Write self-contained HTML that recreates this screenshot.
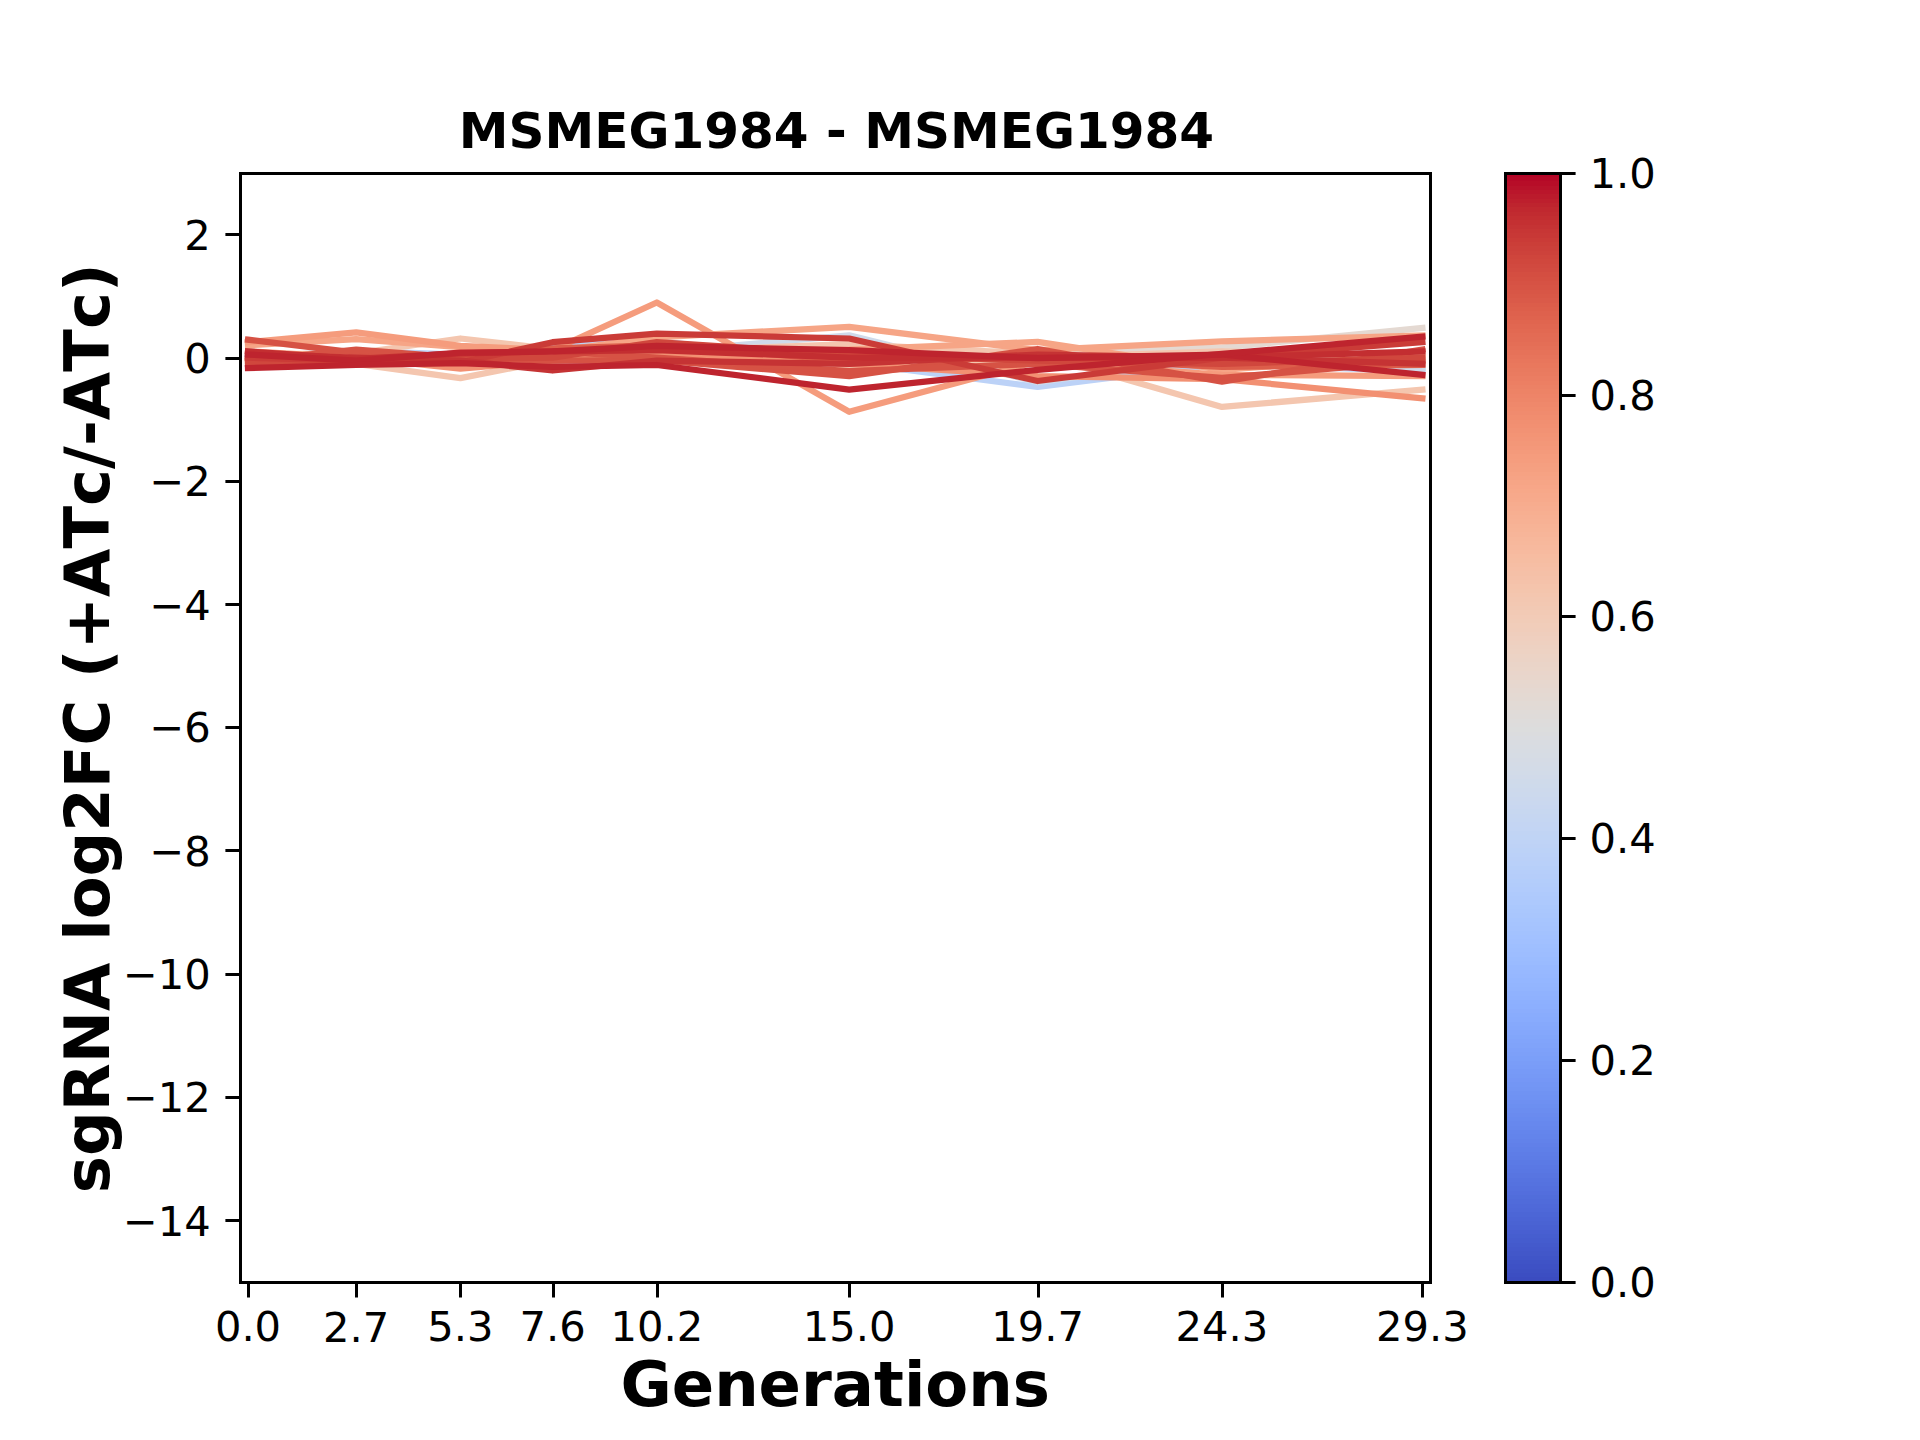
<!DOCTYPE html>
<html lang="en"><head><meta charset="utf-8"><title>MSMEG1984 - MSMEG1984</title>
<style>html,body{margin:0;padding:0;background:#fff}svg{display:block}text{font-kerning:none;font-family:"DejaVu Sans","Liberation Sans",sans-serif;fill:#000}.b{font-weight:bold}.t{font-size:41.67px}</style></head><body>
<svg width="1920" height="1440" viewBox="0 0 1920 1440">
<defs><linearGradient id="cw" x1="0" y1="0" x2="0" y2="1"><stop offset="0.00000" stop-color="#b40426"/><stop offset="0.00391" stop-color="#b40426"/><stop offset="0.00391" stop-color="#b50927"/><stop offset="0.00781" stop-color="#b50927"/><stop offset="0.00781" stop-color="#b70d28"/><stop offset="0.01172" stop-color="#b70d28"/><stop offset="0.01172" stop-color="#b8122a"/><stop offset="0.01562" stop-color="#b8122a"/><stop offset="0.01562" stop-color="#ba162b"/><stop offset="0.01953" stop-color="#ba162b"/><stop offset="0.01953" stop-color="#bb1b2c"/><stop offset="0.02344" stop-color="#bb1b2c"/><stop offset="0.02344" stop-color="#bd1f2d"/><stop offset="0.02734" stop-color="#bd1f2d"/><stop offset="0.02734" stop-color="#be242e"/><stop offset="0.03125" stop-color="#be242e"/><stop offset="0.03125" stop-color="#c0282f"/><stop offset="0.03516" stop-color="#c0282f"/><stop offset="0.03516" stop-color="#c12b30"/><stop offset="0.03906" stop-color="#c12b30"/><stop offset="0.03906" stop-color="#c32e31"/><stop offset="0.04297" stop-color="#c32e31"/><stop offset="0.04297" stop-color="#c43032"/><stop offset="0.04688" stop-color="#c43032"/><stop offset="0.04688" stop-color="#c53334"/><stop offset="0.05078" stop-color="#c53334"/><stop offset="0.05078" stop-color="#c73635"/><stop offset="0.05469" stop-color="#c73635"/><stop offset="0.05469" stop-color="#c83836"/><stop offset="0.05859" stop-color="#c83836"/><stop offset="0.05859" stop-color="#ca3b37"/><stop offset="0.06250" stop-color="#ca3b37"/><stop offset="0.06250" stop-color="#cb3e38"/><stop offset="0.06641" stop-color="#cb3e38"/><stop offset="0.06641" stop-color="#cc403a"/><stop offset="0.07031" stop-color="#cc403a"/><stop offset="0.07031" stop-color="#cd423b"/><stop offset="0.07422" stop-color="#cd423b"/><stop offset="0.07422" stop-color="#cf453c"/><stop offset="0.07812" stop-color="#cf453c"/><stop offset="0.07812" stop-color="#d0473d"/><stop offset="0.08203" stop-color="#d0473d"/><stop offset="0.08203" stop-color="#d1493f"/><stop offset="0.08594" stop-color="#d1493f"/><stop offset="0.08594" stop-color="#d24b40"/><stop offset="0.08984" stop-color="#d24b40"/><stop offset="0.08984" stop-color="#d44e41"/><stop offset="0.09375" stop-color="#d44e41"/><stop offset="0.09375" stop-color="#d55042"/><stop offset="0.09766" stop-color="#d55042"/><stop offset="0.09766" stop-color="#d65244"/><stop offset="0.10156" stop-color="#d65244"/><stop offset="0.10156" stop-color="#d75445"/><stop offset="0.10547" stop-color="#d75445"/><stop offset="0.10547" stop-color="#d85646"/><stop offset="0.10938" stop-color="#d85646"/><stop offset="0.10938" stop-color="#d95847"/><stop offset="0.11328" stop-color="#d95847"/><stop offset="0.11328" stop-color="#da5a49"/><stop offset="0.11719" stop-color="#da5a49"/><stop offset="0.11719" stop-color="#dc5d4a"/><stop offset="0.12109" stop-color="#dc5d4a"/><stop offset="0.12109" stop-color="#dd5f4b"/><stop offset="0.12500" stop-color="#dd5f4b"/><stop offset="0.12500" stop-color="#de614d"/><stop offset="0.12891" stop-color="#de614d"/><stop offset="0.12891" stop-color="#df634e"/><stop offset="0.13281" stop-color="#df634e"/><stop offset="0.13281" stop-color="#e0654f"/><stop offset="0.13672" stop-color="#e0654f"/><stop offset="0.13672" stop-color="#e16751"/><stop offset="0.14062" stop-color="#e16751"/><stop offset="0.14062" stop-color="#e26952"/><stop offset="0.14453" stop-color="#e26952"/><stop offset="0.14453" stop-color="#e36b54"/><stop offset="0.14844" stop-color="#e36b54"/><stop offset="0.14844" stop-color="#e36c55"/><stop offset="0.15234" stop-color="#e36c55"/><stop offset="0.15234" stop-color="#e46e56"/><stop offset="0.15625" stop-color="#e46e56"/><stop offset="0.15625" stop-color="#e57058"/><stop offset="0.16016" stop-color="#e57058"/><stop offset="0.16016" stop-color="#e67259"/><stop offset="0.16406" stop-color="#e67259"/><stop offset="0.16406" stop-color="#e7745b"/><stop offset="0.16797" stop-color="#e7745b"/><stop offset="0.16797" stop-color="#e8765c"/><stop offset="0.17188" stop-color="#e8765c"/><stop offset="0.17188" stop-color="#e9785d"/><stop offset="0.17578" stop-color="#e9785d"/><stop offset="0.17578" stop-color="#e97a5f"/><stop offset="0.17969" stop-color="#e97a5f"/><stop offset="0.17969" stop-color="#ea7b60"/><stop offset="0.18359" stop-color="#ea7b60"/><stop offset="0.18359" stop-color="#eb7d62"/><stop offset="0.18750" stop-color="#eb7d62"/><stop offset="0.18750" stop-color="#ec7f63"/><stop offset="0.19141" stop-color="#ec7f63"/><stop offset="0.19141" stop-color="#ec8165"/><stop offset="0.19531" stop-color="#ec8165"/><stop offset="0.19531" stop-color="#ed8366"/><stop offset="0.19922" stop-color="#ed8366"/><stop offset="0.19922" stop-color="#ee8468"/><stop offset="0.20312" stop-color="#ee8468"/><stop offset="0.20312" stop-color="#ee8669"/><stop offset="0.20703" stop-color="#ee8669"/><stop offset="0.20703" stop-color="#ef886b"/><stop offset="0.21094" stop-color="#ef886b"/><stop offset="0.21094" stop-color="#f08a6c"/><stop offset="0.21484" stop-color="#f08a6c"/><stop offset="0.21484" stop-color="#f08b6e"/><stop offset="0.21875" stop-color="#f08b6e"/><stop offset="0.21875" stop-color="#f18d6f"/><stop offset="0.22266" stop-color="#f18d6f"/><stop offset="0.22266" stop-color="#f18f71"/><stop offset="0.22656" stop-color="#f18f71"/><stop offset="0.22656" stop-color="#f29072"/><stop offset="0.23047" stop-color="#f29072"/><stop offset="0.23047" stop-color="#f29274"/><stop offset="0.23438" stop-color="#f29274"/><stop offset="0.23438" stop-color="#f39475"/><stop offset="0.23828" stop-color="#f39475"/><stop offset="0.23828" stop-color="#f39577"/><stop offset="0.24219" stop-color="#f39577"/><stop offset="0.24219" stop-color="#f39778"/><stop offset="0.24609" stop-color="#f39778"/><stop offset="0.24609" stop-color="#f4987a"/><stop offset="0.25000" stop-color="#f4987a"/><stop offset="0.25000" stop-color="#f49a7b"/><stop offset="0.25391" stop-color="#f49a7b"/><stop offset="0.25391" stop-color="#f59c7d"/><stop offset="0.25781" stop-color="#f59c7d"/><stop offset="0.25781" stop-color="#f59d7e"/><stop offset="0.26172" stop-color="#f59d7e"/><stop offset="0.26172" stop-color="#f59f80"/><stop offset="0.26562" stop-color="#f59f80"/><stop offset="0.26562" stop-color="#f5a081"/><stop offset="0.26953" stop-color="#f5a081"/><stop offset="0.26953" stop-color="#f6a283"/><stop offset="0.27344" stop-color="#f6a283"/><stop offset="0.27344" stop-color="#f6a385"/><stop offset="0.27734" stop-color="#f6a385"/><stop offset="0.27734" stop-color="#f6a586"/><stop offset="0.28125" stop-color="#f6a586"/><stop offset="0.28125" stop-color="#f7a688"/><stop offset="0.28516" stop-color="#f7a688"/><stop offset="0.28516" stop-color="#f7a889"/><stop offset="0.28906" stop-color="#f7a889"/><stop offset="0.28906" stop-color="#f7a98b"/><stop offset="0.29297" stop-color="#f7a98b"/><stop offset="0.29297" stop-color="#f7aa8c"/><stop offset="0.29688" stop-color="#f7aa8c"/><stop offset="0.29688" stop-color="#f7ac8e"/><stop offset="0.30078" stop-color="#f7ac8e"/><stop offset="0.30078" stop-color="#f7ad90"/><stop offset="0.30469" stop-color="#f7ad90"/><stop offset="0.30469" stop-color="#f7af91"/><stop offset="0.30859" stop-color="#f7af91"/><stop offset="0.30859" stop-color="#f7b093"/><stop offset="0.31250" stop-color="#f7b093"/><stop offset="0.31250" stop-color="#f7b194"/><stop offset="0.31641" stop-color="#f7b194"/><stop offset="0.31641" stop-color="#f7b396"/><stop offset="0.32031" stop-color="#f7b396"/><stop offset="0.32031" stop-color="#f7b497"/><stop offset="0.32422" stop-color="#f7b497"/><stop offset="0.32422" stop-color="#f7b599"/><stop offset="0.32812" stop-color="#f7b599"/><stop offset="0.32812" stop-color="#f7b79b"/><stop offset="0.33203" stop-color="#f7b79b"/><stop offset="0.33203" stop-color="#f7b89c"/><stop offset="0.33594" stop-color="#f7b89c"/><stop offset="0.33594" stop-color="#f7b99e"/><stop offset="0.33984" stop-color="#f7b99e"/><stop offset="0.33984" stop-color="#f7ba9f"/><stop offset="0.34375" stop-color="#f7ba9f"/><stop offset="0.34375" stop-color="#f7bca1"/><stop offset="0.34766" stop-color="#f7bca1"/><stop offset="0.34766" stop-color="#f6bda2"/><stop offset="0.35156" stop-color="#f6bda2"/><stop offset="0.35156" stop-color="#f6bea4"/><stop offset="0.35547" stop-color="#f6bea4"/><stop offset="0.35547" stop-color="#f6bfa6"/><stop offset="0.35938" stop-color="#f6bfa6"/><stop offset="0.35938" stop-color="#f5c0a7"/><stop offset="0.36328" stop-color="#f5c0a7"/><stop offset="0.36328" stop-color="#f5c1a9"/><stop offset="0.36719" stop-color="#f5c1a9"/><stop offset="0.36719" stop-color="#f5c2aa"/><stop offset="0.37109" stop-color="#f5c2aa"/><stop offset="0.37109" stop-color="#f5c4ac"/><stop offset="0.37500" stop-color="#f5c4ac"/><stop offset="0.37500" stop-color="#f4c5ad"/><stop offset="0.37891" stop-color="#f4c5ad"/><stop offset="0.37891" stop-color="#f4c6af"/><stop offset="0.38281" stop-color="#f4c6af"/><stop offset="0.38281" stop-color="#f3c7b1"/><stop offset="0.38672" stop-color="#f3c7b1"/><stop offset="0.38672" stop-color="#f3c8b2"/><stop offset="0.39062" stop-color="#f3c8b2"/><stop offset="0.39062" stop-color="#f2c9b4"/><stop offset="0.39453" stop-color="#f2c9b4"/><stop offset="0.39453" stop-color="#f2cab5"/><stop offset="0.39844" stop-color="#f2cab5"/><stop offset="0.39844" stop-color="#f2cbb7"/><stop offset="0.40234" stop-color="#f2cbb7"/><stop offset="0.40234" stop-color="#f1ccb8"/><stop offset="0.40625" stop-color="#f1ccb8"/><stop offset="0.40625" stop-color="#f1cdba"/><stop offset="0.41016" stop-color="#f1cdba"/><stop offset="0.41016" stop-color="#f0cdbb"/><stop offset="0.41406" stop-color="#f0cdbb"/><stop offset="0.41406" stop-color="#efcebd"/><stop offset="0.41797" stop-color="#efcebd"/><stop offset="0.41797" stop-color="#efcfbf"/><stop offset="0.42188" stop-color="#efcfbf"/><stop offset="0.42188" stop-color="#eed0c0"/><stop offset="0.42578" stop-color="#eed0c0"/><stop offset="0.42578" stop-color="#edd1c2"/><stop offset="0.42969" stop-color="#edd1c2"/><stop offset="0.42969" stop-color="#edd2c3"/><stop offset="0.43359" stop-color="#edd2c3"/><stop offset="0.43359" stop-color="#ecd3c5"/><stop offset="0.43750" stop-color="#ecd3c5"/><stop offset="0.43750" stop-color="#ebd3c6"/><stop offset="0.44141" stop-color="#ebd3c6"/><stop offset="0.44141" stop-color="#ead4c8"/><stop offset="0.44531" stop-color="#ead4c8"/><stop offset="0.44531" stop-color="#ead5c9"/><stop offset="0.44922" stop-color="#ead5c9"/><stop offset="0.44922" stop-color="#e9d5cb"/><stop offset="0.45312" stop-color="#e9d5cb"/><stop offset="0.45312" stop-color="#e8d6cc"/><stop offset="0.45703" stop-color="#e8d6cc"/><stop offset="0.45703" stop-color="#e7d7ce"/><stop offset="0.46094" stop-color="#e7d7ce"/><stop offset="0.46094" stop-color="#e6d7cf"/><stop offset="0.46484" stop-color="#e6d7cf"/><stop offset="0.46484" stop-color="#e5d8d1"/><stop offset="0.46875" stop-color="#e5d8d1"/><stop offset="0.46875" stop-color="#e4d9d2"/><stop offset="0.47266" stop-color="#e4d9d2"/><stop offset="0.47266" stop-color="#e3d9d3"/><stop offset="0.47656" stop-color="#e3d9d3"/><stop offset="0.47656" stop-color="#e2dad5"/><stop offset="0.48047" stop-color="#e2dad5"/><stop offset="0.48047" stop-color="#e1dad6"/><stop offset="0.48438" stop-color="#e1dad6"/><stop offset="0.48438" stop-color="#e0dbd8"/><stop offset="0.48828" stop-color="#e0dbd8"/><stop offset="0.48828" stop-color="#dfdbd9"/><stop offset="0.49219" stop-color="#dfdbd9"/><stop offset="0.49219" stop-color="#dedcdb"/><stop offset="0.49609" stop-color="#dedcdb"/><stop offset="0.49609" stop-color="#dddcdc"/><stop offset="0.50000" stop-color="#dddcdc"/><stop offset="0.50000" stop-color="#dcdddd"/><stop offset="0.50391" stop-color="#dcdddd"/><stop offset="0.50391" stop-color="#dbdcde"/><stop offset="0.50781" stop-color="#dbdcde"/><stop offset="0.50781" stop-color="#dadce0"/><stop offset="0.51172" stop-color="#dadce0"/><stop offset="0.51172" stop-color="#d9dce1"/><stop offset="0.51562" stop-color="#d9dce1"/><stop offset="0.51562" stop-color="#d8dce2"/><stop offset="0.51953" stop-color="#d8dce2"/><stop offset="0.51953" stop-color="#d7dce3"/><stop offset="0.52344" stop-color="#d7dce3"/><stop offset="0.52344" stop-color="#d6dce4"/><stop offset="0.52734" stop-color="#d6dce4"/><stop offset="0.52734" stop-color="#d5dbe5"/><stop offset="0.53125" stop-color="#d5dbe5"/><stop offset="0.53125" stop-color="#d4dbe6"/><stop offset="0.53516" stop-color="#d4dbe6"/><stop offset="0.53516" stop-color="#d3dbe7"/><stop offset="0.53906" stop-color="#d3dbe7"/><stop offset="0.53906" stop-color="#d2dbe8"/><stop offset="0.54297" stop-color="#d2dbe8"/><stop offset="0.54297" stop-color="#d1dae9"/><stop offset="0.54688" stop-color="#d1dae9"/><stop offset="0.54688" stop-color="#cfdaea"/><stop offset="0.55078" stop-color="#cfdaea"/><stop offset="0.55078" stop-color="#cedaeb"/><stop offset="0.55469" stop-color="#cedaeb"/><stop offset="0.55469" stop-color="#cdd9ec"/><stop offset="0.55859" stop-color="#cdd9ec"/><stop offset="0.55859" stop-color="#ccd9ed"/><stop offset="0.56250" stop-color="#ccd9ed"/><stop offset="0.56250" stop-color="#cbd8ee"/><stop offset="0.56641" stop-color="#cbd8ee"/><stop offset="0.56641" stop-color="#cad8ef"/><stop offset="0.57031" stop-color="#cad8ef"/><stop offset="0.57031" stop-color="#c9d7f0"/><stop offset="0.57422" stop-color="#c9d7f0"/><stop offset="0.57422" stop-color="#c7d7f0"/><stop offset="0.57812" stop-color="#c7d7f0"/><stop offset="0.57812" stop-color="#c6d6f1"/><stop offset="0.58203" stop-color="#c6d6f1"/><stop offset="0.58203" stop-color="#c5d6f2"/><stop offset="0.58594" stop-color="#c5d6f2"/><stop offset="0.58594" stop-color="#c4d5f3"/><stop offset="0.58984" stop-color="#c4d5f3"/><stop offset="0.58984" stop-color="#c3d5f4"/><stop offset="0.59375" stop-color="#c3d5f4"/><stop offset="0.59375" stop-color="#c1d4f4"/><stop offset="0.59766" stop-color="#c1d4f4"/><stop offset="0.59766" stop-color="#c0d4f5"/><stop offset="0.60156" stop-color="#c0d4f5"/><stop offset="0.60156" stop-color="#bfd3f6"/><stop offset="0.60547" stop-color="#bfd3f6"/><stop offset="0.60547" stop-color="#bed2f6"/><stop offset="0.60938" stop-color="#bed2f6"/><stop offset="0.60938" stop-color="#bcd2f7"/><stop offset="0.61328" stop-color="#bcd2f7"/><stop offset="0.61328" stop-color="#bbd1f8"/><stop offset="0.61719" stop-color="#bbd1f8"/><stop offset="0.61719" stop-color="#bad0f8"/><stop offset="0.62109" stop-color="#bad0f8"/><stop offset="0.62109" stop-color="#b9d0f9"/><stop offset="0.62500" stop-color="#b9d0f9"/><stop offset="0.62500" stop-color="#b7cff9"/><stop offset="0.62891" stop-color="#b7cff9"/><stop offset="0.62891" stop-color="#b6cefa"/><stop offset="0.63281" stop-color="#b6cefa"/><stop offset="0.63281" stop-color="#b5cdfa"/><stop offset="0.63672" stop-color="#b5cdfa"/><stop offset="0.63672" stop-color="#b3cdfb"/><stop offset="0.64062" stop-color="#b3cdfb"/><stop offset="0.64062" stop-color="#b2ccfb"/><stop offset="0.64453" stop-color="#b2ccfb"/><stop offset="0.64453" stop-color="#b1cbfc"/><stop offset="0.64844" stop-color="#b1cbfc"/><stop offset="0.64844" stop-color="#afcafc"/><stop offset="0.65234" stop-color="#afcafc"/><stop offset="0.65234" stop-color="#aec9fc"/><stop offset="0.65625" stop-color="#aec9fc"/><stop offset="0.65625" stop-color="#adc9fd"/><stop offset="0.66016" stop-color="#adc9fd"/><stop offset="0.66016" stop-color="#abc8fd"/><stop offset="0.66406" stop-color="#abc8fd"/><stop offset="0.66406" stop-color="#aac7fd"/><stop offset="0.66797" stop-color="#aac7fd"/><stop offset="0.66797" stop-color="#a9c6fd"/><stop offset="0.67188" stop-color="#a9c6fd"/><stop offset="0.67188" stop-color="#a7c5fe"/><stop offset="0.67578" stop-color="#a7c5fe"/><stop offset="0.67578" stop-color="#a6c4fe"/><stop offset="0.67969" stop-color="#a6c4fe"/><stop offset="0.67969" stop-color="#a5c3fe"/><stop offset="0.68359" stop-color="#a5c3fe"/><stop offset="0.68359" stop-color="#a3c2fe"/><stop offset="0.68750" stop-color="#a3c2fe"/><stop offset="0.68750" stop-color="#a2c1ff"/><stop offset="0.69141" stop-color="#a2c1ff"/><stop offset="0.69141" stop-color="#a1c0ff"/><stop offset="0.69531" stop-color="#a1c0ff"/><stop offset="0.69531" stop-color="#9fbfff"/><stop offset="0.69922" stop-color="#9fbfff"/><stop offset="0.69922" stop-color="#9ebeff"/><stop offset="0.70312" stop-color="#9ebeff"/><stop offset="0.70312" stop-color="#9dbdff"/><stop offset="0.70703" stop-color="#9dbdff"/><stop offset="0.70703" stop-color="#9bbcff"/><stop offset="0.71094" stop-color="#9bbcff"/><stop offset="0.71094" stop-color="#9abbff"/><stop offset="0.71484" stop-color="#9abbff"/><stop offset="0.71484" stop-color="#98b9ff"/><stop offset="0.71875" stop-color="#98b9ff"/><stop offset="0.71875" stop-color="#97b8ff"/><stop offset="0.72266" stop-color="#97b8ff"/><stop offset="0.72266" stop-color="#96b7ff"/><stop offset="0.72656" stop-color="#96b7ff"/><stop offset="0.72656" stop-color="#94b6ff"/><stop offset="0.73047" stop-color="#94b6ff"/><stop offset="0.73047" stop-color="#93b5fe"/><stop offset="0.73438" stop-color="#93b5fe"/><stop offset="0.73438" stop-color="#92b4fe"/><stop offset="0.73828" stop-color="#92b4fe"/><stop offset="0.73828" stop-color="#90b2fe"/><stop offset="0.74219" stop-color="#90b2fe"/><stop offset="0.74219" stop-color="#8fb1fe"/><stop offset="0.74609" stop-color="#8fb1fe"/><stop offset="0.74609" stop-color="#8db0fe"/><stop offset="0.75000" stop-color="#8db0fe"/><stop offset="0.75000" stop-color="#8caffe"/><stop offset="0.75391" stop-color="#8caffe"/><stop offset="0.75391" stop-color="#8badfd"/><stop offset="0.75781" stop-color="#8badfd"/><stop offset="0.75781" stop-color="#89acfd"/><stop offset="0.76172" stop-color="#89acfd"/><stop offset="0.76172" stop-color="#88abfd"/><stop offset="0.76562" stop-color="#88abfd"/><stop offset="0.76562" stop-color="#86a9fc"/><stop offset="0.76953" stop-color="#86a9fc"/><stop offset="0.76953" stop-color="#85a8fc"/><stop offset="0.77344" stop-color="#85a8fc"/><stop offset="0.77344" stop-color="#84a7fc"/><stop offset="0.77734" stop-color="#84a7fc"/><stop offset="0.77734" stop-color="#82a6fb"/><stop offset="0.78125" stop-color="#82a6fb"/><stop offset="0.78125" stop-color="#81a4fb"/><stop offset="0.78516" stop-color="#81a4fb"/><stop offset="0.78516" stop-color="#80a3fa"/><stop offset="0.78906" stop-color="#80a3fa"/><stop offset="0.78906" stop-color="#7ea1fa"/><stop offset="0.79297" stop-color="#7ea1fa"/><stop offset="0.79297" stop-color="#7da0f9"/><stop offset="0.79688" stop-color="#7da0f9"/><stop offset="0.79688" stop-color="#7b9ff9"/><stop offset="0.80078" stop-color="#7b9ff9"/><stop offset="0.80078" stop-color="#7a9df8"/><stop offset="0.80469" stop-color="#7a9df8"/><stop offset="0.80469" stop-color="#799cf8"/><stop offset="0.80859" stop-color="#799cf8"/><stop offset="0.80859" stop-color="#779af7"/><stop offset="0.81250" stop-color="#779af7"/><stop offset="0.81250" stop-color="#7699f6"/><stop offset="0.81641" stop-color="#7699f6"/><stop offset="0.81641" stop-color="#7597f6"/><stop offset="0.82031" stop-color="#7597f6"/><stop offset="0.82031" stop-color="#7396f5"/><stop offset="0.82422" stop-color="#7396f5"/><stop offset="0.82422" stop-color="#7295f4"/><stop offset="0.82812" stop-color="#7295f4"/><stop offset="0.82812" stop-color="#7093f3"/><stop offset="0.83203" stop-color="#7093f3"/><stop offset="0.83203" stop-color="#6f92f3"/><stop offset="0.83594" stop-color="#6f92f3"/><stop offset="0.83594" stop-color="#6e90f2"/><stop offset="0.83984" stop-color="#6e90f2"/><stop offset="0.83984" stop-color="#6c8ff1"/><stop offset="0.84375" stop-color="#6c8ff1"/><stop offset="0.84375" stop-color="#6b8df0"/><stop offset="0.84766" stop-color="#6b8df0"/><stop offset="0.84766" stop-color="#6a8bef"/><stop offset="0.85156" stop-color="#6a8bef"/><stop offset="0.85156" stop-color="#688aef"/><stop offset="0.85547" stop-color="#688aef"/><stop offset="0.85547" stop-color="#6788ee"/><stop offset="0.85938" stop-color="#6788ee"/><stop offset="0.85938" stop-color="#6687ed"/><stop offset="0.86328" stop-color="#6687ed"/><stop offset="0.86328" stop-color="#6485ec"/><stop offset="0.86719" stop-color="#6485ec"/><stop offset="0.86719" stop-color="#6384eb"/><stop offset="0.87109" stop-color="#6384eb"/><stop offset="0.87109" stop-color="#6282ea"/><stop offset="0.87500" stop-color="#6282ea"/><stop offset="0.87500" stop-color="#6180e9"/><stop offset="0.87891" stop-color="#6180e9"/><stop offset="0.87891" stop-color="#5f7fe8"/><stop offset="0.88281" stop-color="#5f7fe8"/><stop offset="0.88281" stop-color="#5e7de7"/><stop offset="0.88672" stop-color="#5e7de7"/><stop offset="0.88672" stop-color="#5d7ce6"/><stop offset="0.89062" stop-color="#5d7ce6"/><stop offset="0.89062" stop-color="#5b7ae5"/><stop offset="0.89453" stop-color="#5b7ae5"/><stop offset="0.89453" stop-color="#5a78e4"/><stop offset="0.89844" stop-color="#5a78e4"/><stop offset="0.89844" stop-color="#5977e3"/><stop offset="0.90234" stop-color="#5977e3"/><stop offset="0.90234" stop-color="#5875e1"/><stop offset="0.90625" stop-color="#5875e1"/><stop offset="0.90625" stop-color="#5673e0"/><stop offset="0.91016" stop-color="#5673e0"/><stop offset="0.91016" stop-color="#5572df"/><stop offset="0.91406" stop-color="#5572df"/><stop offset="0.91406" stop-color="#5470de"/><stop offset="0.91797" stop-color="#5470de"/><stop offset="0.91797" stop-color="#536edd"/><stop offset="0.92188" stop-color="#536edd"/><stop offset="0.92188" stop-color="#516ddb"/><stop offset="0.92578" stop-color="#516ddb"/><stop offset="0.92578" stop-color="#506bda"/><stop offset="0.92969" stop-color="#506bda"/><stop offset="0.92969" stop-color="#4f69d9"/><stop offset="0.93359" stop-color="#4f69d9"/><stop offset="0.93359" stop-color="#4e68d8"/><stop offset="0.93750" stop-color="#4e68d8"/><stop offset="0.93750" stop-color="#4c66d6"/><stop offset="0.94141" stop-color="#4c66d6"/><stop offset="0.94141" stop-color="#4b64d5"/><stop offset="0.94531" stop-color="#4b64d5"/><stop offset="0.94531" stop-color="#4a63d3"/><stop offset="0.94922" stop-color="#4a63d3"/><stop offset="0.94922" stop-color="#4961d2"/><stop offset="0.95312" stop-color="#4961d2"/><stop offset="0.95312" stop-color="#485fd1"/><stop offset="0.95703" stop-color="#485fd1"/><stop offset="0.95703" stop-color="#465ecf"/><stop offset="0.96094" stop-color="#465ecf"/><stop offset="0.96094" stop-color="#455cce"/><stop offset="0.96484" stop-color="#455cce"/><stop offset="0.96484" stop-color="#445acc"/><stop offset="0.96875" stop-color="#445acc"/><stop offset="0.96875" stop-color="#4358cb"/><stop offset="0.97266" stop-color="#4358cb"/><stop offset="0.97266" stop-color="#4257c9"/><stop offset="0.97656" stop-color="#4257c9"/><stop offset="0.97656" stop-color="#4055c8"/><stop offset="0.98047" stop-color="#4055c8"/><stop offset="0.98047" stop-color="#3f53c6"/><stop offset="0.98438" stop-color="#3f53c6"/><stop offset="0.98438" stop-color="#3e51c5"/><stop offset="0.98828" stop-color="#3e51c5"/><stop offset="0.98828" stop-color="#3d50c3"/><stop offset="0.99219" stop-color="#3d50c3"/><stop offset="0.99219" stop-color="#3c4ec2"/><stop offset="0.99609" stop-color="#3c4ec2"/><stop offset="0.99609" stop-color="#3b4cc0"/><stop offset="1.00000" stop-color="#3b4cc0"/></linearGradient><clipPath id="ax"><rect x="240.0" y="172.8" width="1190.4" height="1108.8"/></clipPath></defs>
<rect width="1920" height="1440" fill="#fff"/>
<g clip-path="url(#ax)" fill="none" stroke-width="6.25" stroke-linecap="square" stroke-linejoin="round">
<polyline stroke="#bcd2f7" points="248.0,357.6 356.2,350.8 460.4,354.5 552.6,345.3 656.8,341.0 849.2,362.5 1037.6,386.9 1222.0,363.8 1422.4,371.2"/>
<polyline stroke="#cfdaea" points="248.0,354.5 356.2,360.7 460.4,357.6 552.6,354.5 656.8,352.1 849.2,335.4 1037.6,382.2 1222.0,357.6 1422.4,369.9"/>
<polyline stroke="#e4d9d2" points="248.0,357.6 356.2,357.6 460.4,354.5 552.6,357.6 656.8,354.5 849.2,357.6 1037.6,350.2 1222.0,347.7 1422.4,328.0"/>
<polyline stroke="#f4c6af" points="248.0,354.5 356.2,353.3 460.4,338.5 552.6,349.0 656.8,351.4 849.2,344.0 1037.6,353.9 1222.0,406.9 1422.4,389.6"/>
<polyline stroke="#f4c6af" points="248.0,360.7 356.2,363.8 460.4,378.1 552.6,360.1 656.8,358.8 849.2,369.9 1037.6,357.6 1222.0,351.4 1422.4,357.6"/>
<polyline stroke="#f6a586" points="248.0,345.3 356.2,339.1 460.4,347.1 552.6,351.4 656.8,337.3 849.2,326.8 1037.6,350.2 1222.0,341.3 1422.4,335.4"/>
<polyline stroke="#f6a586" points="248.0,360.7 356.2,357.6 460.4,354.5 552.6,357.6 656.8,351.4 849.2,349.6 1037.6,341.9 1222.0,369.9 1422.4,354.5"/>
<polyline stroke="#f59c7d" points="248.0,342.2 356.2,332.3 460.4,345.9 552.6,350.2 656.8,302.5 849.2,411.8 1037.6,361.3 1222.0,374.8 1422.4,376.1"/>
<polyline stroke="#f29072" points="248.0,351.4 356.2,357.6 460.4,368.7 552.6,360.7 656.8,354.5 849.2,363.8 1037.6,376.1 1222.0,379.2 1422.4,398.3"/>
<polyline stroke="#dc5d4a" points="248.0,357.6 356.2,362.5 460.4,357.6 552.6,348.4 656.8,345.3 849.2,360.7 1037.6,357.6 1222.0,366.8 1422.4,365.0"/>
<polyline stroke="#d65244" points="248.0,339.7 356.2,352.7 460.4,357.6 552.6,360.7 656.8,360.1 849.2,376.1 1037.6,349.0 1222.0,381.6 1422.4,349.6"/>
<polyline stroke="#d65244" points="248.0,360.7 356.2,349.6 460.4,357.6 552.6,351.4 656.8,357.6 849.2,371.2 1037.6,363.8 1222.0,377.9 1422.4,360.7"/>
<polyline stroke="#d0473d" points="248.0,363.8 356.2,363.8 460.4,358.8 552.6,357.6 656.8,342.2 849.2,354.5 1037.6,360.7 1222.0,363.8 1422.4,357.6"/>
<polyline stroke="#ca3b37" points="248.0,357.6 356.2,360.7 460.4,362.5 552.6,342.2 656.8,333.6 849.2,338.5 1037.6,381.0 1222.0,357.6 1422.4,342.2"/>
<polyline stroke="#c53334" points="248.0,354.5 356.2,357.6 460.4,360.7 552.6,370.5 656.8,360.7 849.2,363.8 1037.6,354.5 1222.0,357.6 1422.4,363.8"/>
<polyline stroke="#c32e31" points="248.0,351.4 356.2,358.8 460.4,353.3 552.6,351.4 656.8,350.2 849.2,357.6 1037.6,357.6 1222.0,357.6 1422.4,351.4"/>
<polyline stroke="#be242e" points="248.0,354.5 356.2,360.7 460.4,352.7 552.6,351.4 656.8,345.9 849.2,350.2 1037.6,358.2 1222.0,354.5 1422.4,374.8"/>
<polyline stroke="#be242e" points="248.0,368.1 356.2,365.0 460.4,363.1 552.6,366.8 656.8,365.0 849.2,389.6 1037.6,369.9 1222.0,353.9 1422.4,336.7"/>
</g>
<g stroke="#000" stroke-width="3" fill="none">
<path d="M248.5 1282.5V1297.5"/>
<path d="M356.5 1282.5V1297.5"/>
<path d="M460.5 1282.5V1297.5"/>
<path d="M553.5 1282.5V1297.5"/>
<path d="M657.5 1282.5V1297.5"/>
<path d="M849.5 1282.5V1297.5"/>
<path d="M1038.5 1282.5V1297.5"/>
<path d="M1222.5 1282.5V1297.5"/>
<path d="M1422.5 1282.5V1297.5"/>
<path d="M225.4 234.5H240.5"/>
<path d="M225.4 358.5H240.5"/>
<path d="M225.4 481.5H240.5"/>
<path d="M225.4 604.5H240.5"/>
<path d="M225.4 727.5H240.5"/>
<path d="M225.4 850.5H240.5"/>
<path d="M225.4 974.5H240.5"/>
<path d="M225.4 1097.5H240.5"/>
<path d="M225.4 1220.5H240.5"/>
<rect x="240.5" y="173.5" width="1190.0" height="1109.0"/>
</g>
<rect x="1504.8" y="172.8" width="55.44" height="1108.8" fill="url(#cw)"/>
<g stroke="#000" stroke-width="3" fill="none">
<rect x="1505.5" y="173.5" width="55" height="1109"/>
<path d="M1560.5 1282.5H1575.6"/>
<path d="M1560.5 1060.5H1575.6"/>
<path d="M1560.5 838.5H1575.6"/>
<path d="M1560.5 616.5H1575.6"/>
<path d="M1560.5 395.5H1575.6"/>
<path d="M1560.5 173.5H1575.6"/>
</g>
<g class="t" text-anchor="middle">
<text x="248.0" y="1341">0.0</text>
<text x="356.2" y="1342">2.7</text>
<text x="460.4" y="1341">5.3</text>
<text x="552.6" y="1341">7.6</text>
<text x="656.8" y="1341">10.2</text>
<text x="849.2" y="1341">15.0</text>
<text x="1037.6" y="1341">19.7</text>
<text x="1222.0" y="1341">24.3</text>
<text x="1422.4" y="1341">29.3</text>
</g><g class="t" text-anchor="end">
<text x="210.8" y="250.0">2</text>
<text x="210.8" y="373.2">0</text>
<text x="210.8" y="496.4">−2</text>
<text x="210.8" y="619.6">−4</text>
<text x="210.8" y="742.1">−6</text>
<text x="210.8" y="866.0">−8</text>
<text x="210.8" y="989.2">−10</text>
<text x="210.8" y="1112.4">−12</text>
<text x="210.8" y="1235.6">−14</text>
</g><g class="t">
<text x="1589.4" y="1297.2">0.0</text>
<text x="1589.4" y="1075.4">0.2</text>
<text x="1589.4" y="852.7">0.4</text>
<text x="1589.4" y="630.9">0.6</text>
<text x="1589.4" y="410.2">0.8</text>
<text x="1589.4" y="188.4">1.0</text>
</g>
<text class="b" x="835.2" y="147.8" font-size="50" dx="1.25" text-anchor="middle">MSMEG1984 - MSMEG1984</text>
<text class="b" x="835.2" y="1406" font-size="62.5" text-anchor="middle">Generations</text>
<text class="b" transform="translate(108.5 728.4) rotate(-90)" font-size="62.5" text-anchor="middle">sgRNA log2FC (+ATc/-ATc)</text>
</svg></body></html>
